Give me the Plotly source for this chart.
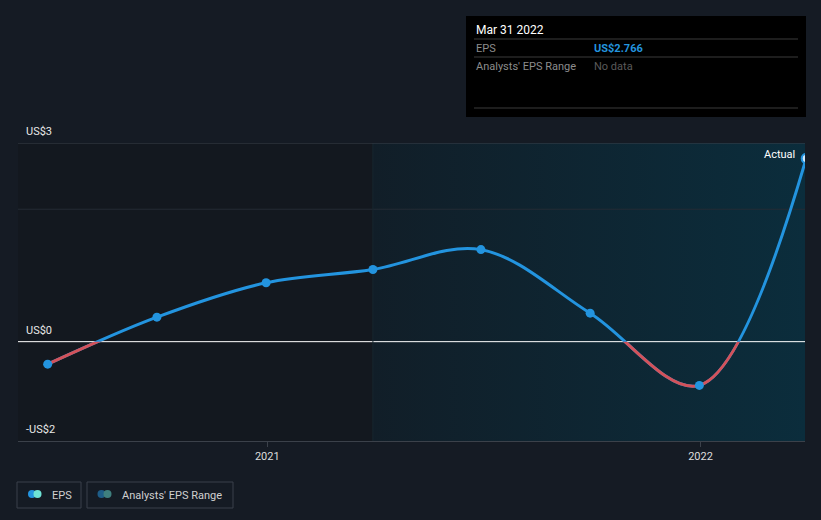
import plotly.graph_objects as go

# quarterly EPS (US$)
dates = ["2020-06-30", "2020-09-30", "2020-12-31", "2021-03-31",
         "2021-06-30", "2021-09-30", "2021-12-31", "2022-03-31"]
eps = [-0.34, 0.37, 0.89, 1.09, 1.39, 0.43, -0.66, 2.766]

forecast_start = "2021-03-31"
x_range = ["2020-06-05", "2022-03-30"]
y_range = [-1.5, 3.0]

y_label_vals = [3.0, 0.0, -1.5]
y_label_text = ["US$3", "US$0", "-US$2"]
tick_vals = ["2021-01-01", "2022-01-01"]
tick_text = ["2021", "2022"]

BLUE = "#2394df"
RED = "#d3525a"
BG = "#151b24"
FONT = "Roboto"

# page geometry (pixels)
W, H = 821, 520
L, R, T, B = 18, 16, 143, 79
PW, PH = W - L - R, H - T - B


def fx(px):
    return (px - L) / PW


def fy(py):
    return (T + PH - py) / PH


fig = go.Figure()

# shaded region from the last reported year onward
fig.add_trace(go.Scatter(
    x=[forecast_start, x_range[1], x_range[1], forecast_start],
    y=[y_range[0], y_range[0], y_range[1], y_range[1]],
    fill="toself", mode="lines", line=dict(width=0),
    fillgradient=dict(type="horizontal",
                      colorscale=[[0, "#111e28"], [1, "#0b2d3c"]]),
    hoverinfo="skip", showlegend=False))

# grid lines drawn as traces so they sit above the shading, under the curve
for yv, col in ((2, "#252c35"), (0, "#ffffff")):
    fig.add_trace(go.Scatter(x=x_range, y=[yv, yv], mode="lines",
                             line=dict(color=col, width=1),
                             hoverinfo="skip", showlegend=False))
fig.add_trace(go.Scatter(x=[forecast_start, forecast_start], y=y_range,
                         mode="lines", line=dict(color="#16272f", width=1),
                         hoverinfo="skip", showlegend=False))

# EPS line (blue everywhere)
fig.add_trace(go.Scatter(
    x=dates, y=eps, mode="lines",
    line=dict(color=BLUE, width=3, shape="spline", smoothing=1),
    hoverinfo="skip", showlegend=False))

# markers for positive points
pos = [(d, v) for d, v in zip(dates, eps) if v >= 0]
last = len(pos) - 1
fig.add_trace(go.Scatter(
    x=[p[0] for p in pos], y=[p[1] for p in pos], mode="markers",
    marker=dict(color=[BLUE] * last + ["#cfe9fb"], size=9,
                line=dict(color=[BLUE] * last + [BLUE],
                          width=[0] * last + [2])),
    hoverinfo="skip", showlegend=False))

# same line again, clipped to the negative half -> red below zero
fig.add_trace(go.Scatter(
    x=dates, y=eps, mode="lines", xaxis="x", yaxis="y2",
    line=dict(color=RED, width=3, shape="spline", smoothing=1),
    hoverinfo="skip", showlegend=False))

neg = [(d, v) for d, v in zip(dates, eps) if v < 0]
fig.add_trace(go.Scatter(
    x=[p[0] for p in neg], y=[p[1] for p in neg], mode="markers",
    xaxis="x", yaxis="y2",
    marker=dict(color=BLUE, size=9),
    hoverinfo="skip", showlegend=False))

shapes = [
    # darker history area
    dict(type="rect", xref="x", yref="paper", x0=x_range[0],
         x1=forecast_start, y0=0, y1=1, fillcolor="#13181f",
         line=dict(width=0), layer="below"),
    # top grid line
    dict(type="line", xref="paper", yref="y", x0=0, x1=1, y0=3, y1=3,
         line=dict(color="#3b414a", width=1), layer="above"),
    # tooltip box
    dict(type="rect", xref="paper", yref="paper", x0=fx(466), x1=fx(806),
         y0=fy(117), y1=fy(16), fillcolor="#000000", line=dict(width=0)),
]
for py in (39, 57, 108):
    shapes.append(dict(type="line", xref="paper", yref="paper",
                       x0=fx(474), x1=fx(798), y0=fy(py), y1=fy(py),
                       line=dict(color="#3a3a3a", width=1)))

# legend boxes and dots
for x0, x1 in ((17, 81), (87, 233)):
    shapes.append(dict(type="rect", xref="paper", yref="paper",
                       x0=fx(x0), x1=fx(x1), y0=fy(508), y1=fy(482),
                       line=dict(color="#3a404a", width=1)))
for cx, col in ((32, "#2394df"), (37.5, "#6ee3d6"),
                (101.5, "#1e5d88"), (107.5, "#3f7f7e")):
    shapes.append(dict(type="circle", xref="paper", yref="paper",
                       x0=fx(cx - 4), x1=fx(cx + 4), y0=fy(498), y1=fy(490),
                       fillcolor=col, line=dict(width=0)))

annotations = []
for v, t in zip(y_label_vals, y_label_text):
    annotations.append(dict(x=fx(24), y=v, xref="paper", yref="y", text=t,
                            showarrow=False, xanchor="left", yanchor="bottom",
                            yshift=3, font=dict(color="#e8e8e8", size=11)))


def label(px, py, text, color, size=11, bold=False, anchor="left"):
    if bold:
        text = "<b>" + text + "</b>"
    annotations.append(dict(x=fx(px), y=fy(py), xref="paper", yref="paper",
                            text=text, showarrow=False, xanchor=anchor,
                            yanchor="middle",
                            font=dict(color=color, size=size)))


label(474, 30, "Mar 31 2022", "#ffffff", size=12)
label(474, 48, "EPS", "#8c8c8c")
label(592, 48, "US$" + f"{eps[-1]:.3f}", BLUE, bold=True)
label(474, 66, "Analysts' EPS Range", "#8c8c8c")
label(592, 66, "No data", "#5a5a5a")
label(797, 154, "Actual", "#ffffff", size=11, anchor="right")
label(50, 495, "EPS", "#d0d0d0")
label(120, 495, "Analysts' EPS Range", "#d0d0d0")

fig.update_layout(
    width=W, height=H,
    margin=dict(l=L, r=R, t=T, b=B, pad=0),
    paper_bgcolor=BG, plot_bgcolor="rgba(0,0,0,0)",
    font=dict(family=FONT, color="#e0e0e0", size=11),
    showlegend=False,
    xaxis=dict(type="date", range=x_range, tickvals=tick_vals,
               ticktext=tick_text, showgrid=False, zeroline=False,
               showline=True, linecolor="#3b414a", linewidth=1,
               ticks="outside", ticklen=5, tickcolor="#3b414a",
               tickfont=dict(color="#dddddd", size=11), fixedrange=True),
    yaxis=dict(range=y_range, showgrid=False, zeroline=False,
               showticklabels=False, fixedrange=True),
    yaxis2=dict(range=[y_range[0], 0],
                domain=[0, -y_range[0] / (y_range[1] - y_range[0])],
                anchor="x", visible=False, showgrid=False, zeroline=False,
                fixedrange=True),
    shapes=shapes,
    annotations=annotations,
)

# the page body has a default 8px margin; drop it so the chart sits at 0,0
fig.write_html("out.html", config={"displayModeBar": False},
               post_script="document.body.style.margin='0';"
               "document.body.style.background='" + BG + "';")
